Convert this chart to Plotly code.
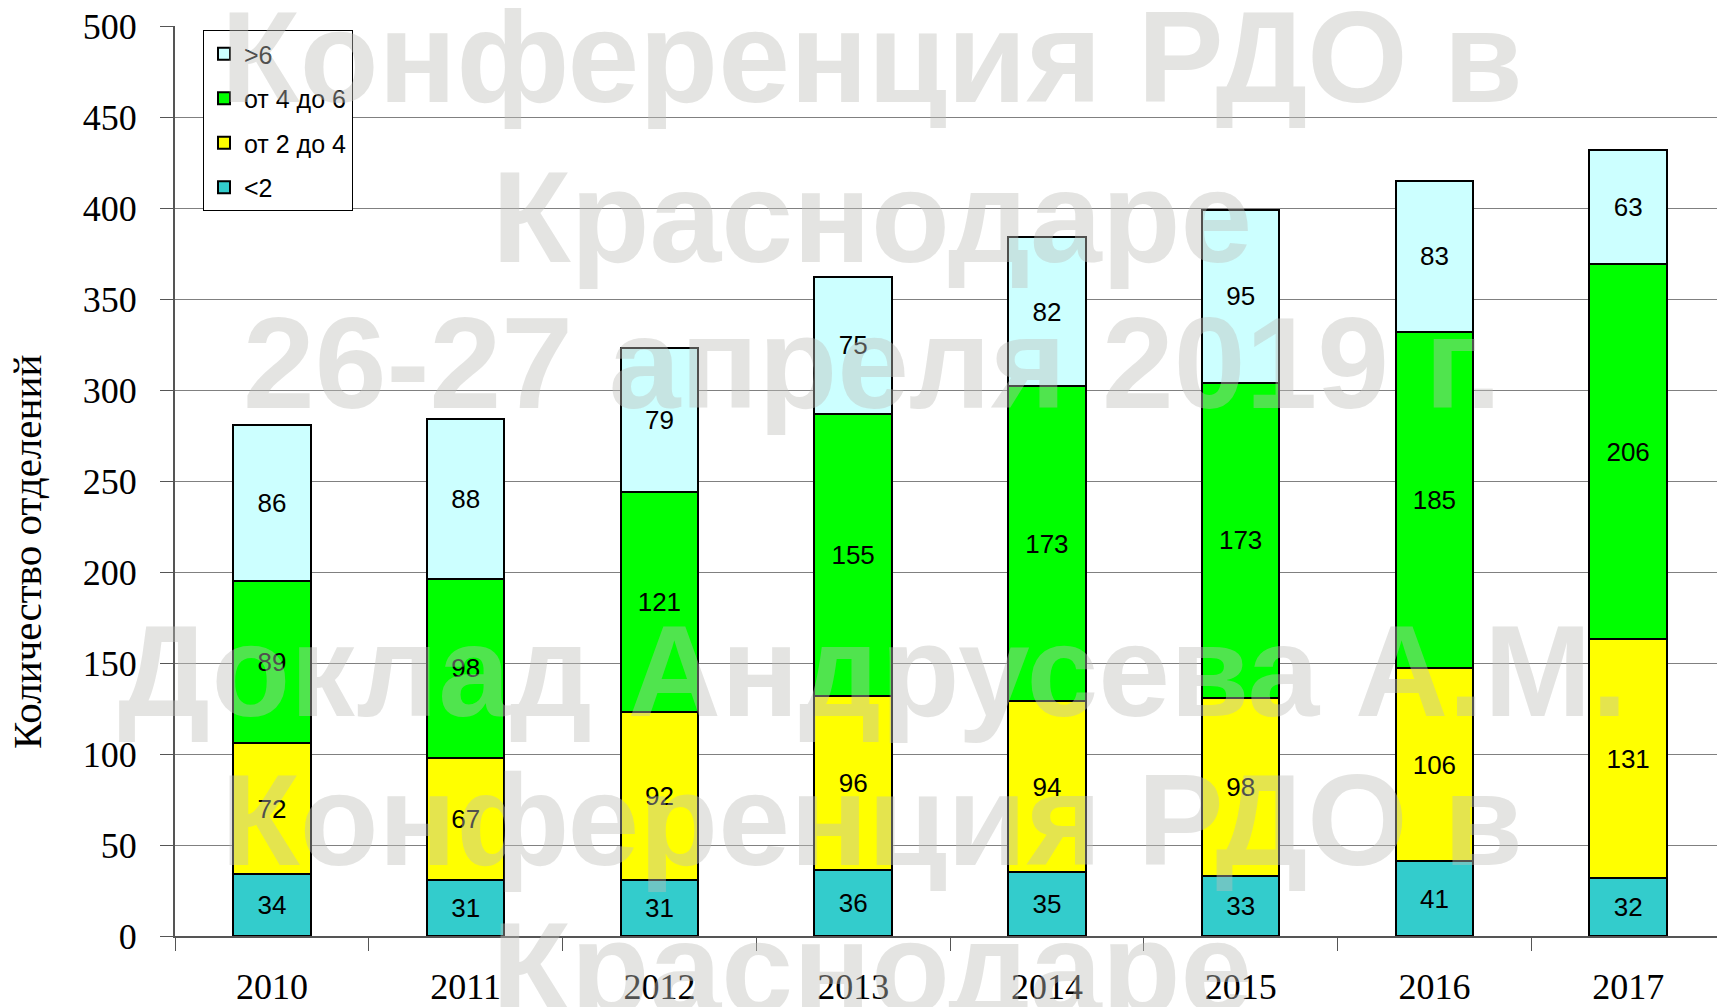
import plotly.graph_objects as go

years = ["2010", "2011", "2012", "2013", "2014", "2015", "2016", "2017"]
lt2 = [34, 31, 31, 36, 35, 33, 41, 32]
from2to4 = [72, 67, 92, 96, 94, 98, 106, 131]
from4to6 = [89, 98, 121, 155, 173, 173, 185, 206]
gt6 = [86, 88, 79, 75, 82, 95, 83, 63]

series = [
    ("<2", lt2, "#33CCCC", 4),
    ("от 2 до 4", from2to4, "#FFFF00", 3),
    ("от 4 до 6", from4to6, "#00FF00", 2),
    (">6", gt6, "#CCFFFF", 1),
]

y_ticks = [0, 50, 100, 150, 200, 250, 300, 350, 400, 450, 500]

watermark_lines = [
    ("Конференция РДО в", 57),
    ("Краснодаре", 217),
    ("26-27 апреля 2019 г.", 363),
    ("Доклад Андрусева А.М.", 671),
    ("Конференция РДО в", 820),
    ("Краснодаре", 968),
]

# page body has an 8px margin; compensate
OFF = 8
W, H = 1725 - OFF, 1007 - OFF
ML, MR, MT, MB = 175 - OFF, 0, 26 - OFF, 71
PW = W - ML - MR
PH = H - MT - MB


def px_y(ypx):
    return (H - MB - (ypx - OFF)) / PH


def px_x(xpx):
    return ((xpx - OFF) - ML) / PW


fig = go.Figure()
for name, vals, color, rank in series:
    fig.add_trace(go.Bar(
        x=years, y=vals, name=name, legendgroup=name, legendrank=rank,
        marker=dict(color=color, line=dict(color="#000000", width=2)),
        text=[str(v) for v in vals],
        textposition="inside", insidetextanchor="middle", textangle=0,
        constraintext="none",
        textfont=dict(family="Liberation Sans, Arial, sans-serif", size=26, color="#000000"),
        width=0.4,
    ))

annotations = []
for txt, ypx in watermark_lines:
    annotations.append(dict(
        text="<b>" + txt + "</b>", xref="paper", yref="paper",
        x=px_x(872), y=px_y(ypx),
        xanchor="center", yanchor="middle", showarrow=False,
        font=dict(family="Liberation Sans, Arial, sans-serif", size=129,
                  color="rgba(190,190,185,0.42)"),
    ))
annotations.append(dict(
    text="Количество отделений", xref="paper", yref="paper",
    x=px_x(27), y=px_y(552), textangle=-90,
    xanchor="center", yanchor="middle", showarrow=False,
    font=dict(family="Liberation Serif, Times New Roman, serif", size=41, color="#000000"),
))

fig.update_layout(
    width=W, height=H,
    margin=dict(l=ML, r=MR, t=MT, b=MB),
    barmode="stack",
    plot_bgcolor="white", paper_bgcolor="white",
    showlegend=True,
    legend=dict(
        x=px_x(203), y=px_y(30), xanchor="left", yanchor="top",
        traceorder="grouped", tracegroupgap=9,
        bordercolor="#000000", borderwidth=1, bgcolor="white",
        font=dict(family="Liberation Sans, Arial, sans-serif", size=25, color="#000000"),
    ),
    xaxis=dict(
        type="category", range=[-0.5, 7.5],
        tickson="boundaries", ticks="outside", ticklen=13, tickwidth=1.3, tickcolor="#555555",
        showline=True, linecolor="#555555", linewidth=2,
        showgrid=False,
        tickfont=dict(family="Liberation Serif, Times New Roman, serif", size=36, color="#000000"),
        ticklabelstandoff=18,
        ticklabeloverflow="allow",
    ),
    yaxis=dict(
        range=[0, 500], tickvals=y_ticks, ticktext=[str(v) for v in y_ticks],
        ticks="outside", ticklen=13, tickwidth=1.3, tickcolor="#555555",
        showline=True, linecolor="#555555", linewidth=2,
        showgrid=True, gridcolor="#808080", gridwidth=1.3,
        zeroline=False,
        tickfont=dict(family="Liberation Serif, Times New Roman, serif", size=36, color="#000000"),
        ticklabelstandoff=16,
        ticklabeloverflow="allow",
    ),
    annotations=annotations,
)

fig.write_html("out.html")
